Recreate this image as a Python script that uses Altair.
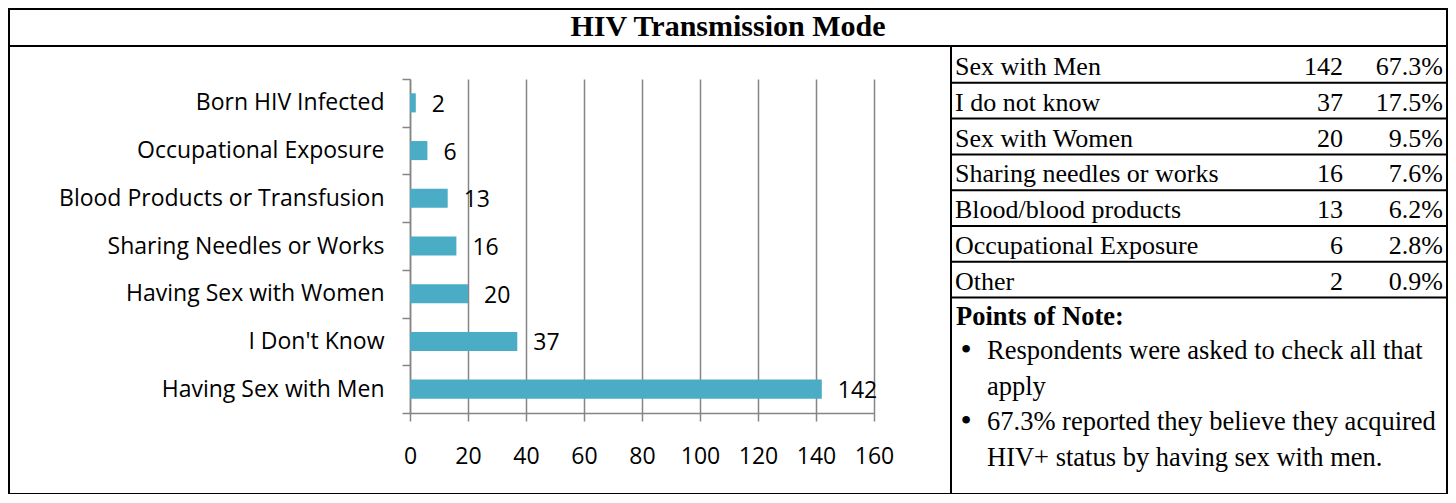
import altair as alt
import pandas as pd

# ---------------- data ----------------
categories = ["Born HIV Infected", "Occupational Exposure", "Blood Products or Transfusion",
              "Sharing Needles or Works", "Having Sex with Women", "I Don't Know",
              "Having Sex with Men"]
counts = [2, 6, 13, 16, 20, 37, 142]

table_labels = ["Sex with Men", "I do not know", "Sex with Women", "Sharing needles or works",
                "Blood/blood products", "Occupational Exposure", "Other"]
table_counts = [142, 37, 20, 16, 13, 6, 2]
table_pcts = ["67.3%", "17.5%", "9.5%", "7.6%", "6.2%", "2.8%", "0.9%"]

title_text = "HIV Transmission Mode"
note_title = "Points of Note:"
note_items = [["Respondents were asked to check all that", "apply"],
              ["67.3% reported they believe they acquired", "HIV+ status by having sex with men."]]
x_ticks = [0, 20, 40, 60, 80, 100, 120, 140, 160]

# ---------------- layout (page pixels -> plot coords) ----------------
OX, OY = 410, 79          # plot origin on page
PW, PH = 464, 334         # plot area
TOTAL_W, TOTAL_H = 1440, 486
PAD_L, PAD_T = OX - 8, OY - 8
PAD_R = TOTAL_W - PAD_L - PW
PAD_B = TOTAL_H - PAD_T - PH

def px(x):
    return x - OX

def py(y):
    return y - OY

SANS = "Open Sans"
SERIF = "Liberation Serif"
GRAY = "#858585"
BAR = "#4BACC6"
TFS = 26      # table font size
NFS = 26.5    # notes font size
LH = 35.7     # notes line height

bars_df = pd.DataFrame({"category": categories, "count": counts})
table_df = pd.DataFrame({"label": table_labels, "n": table_counts, "pct": table_pcts})
one = pd.DataFrame({"a": [0]})

yscale = alt.Scale(paddingInner=0, paddingOuter=0)
xenc = alt.X("count:Q", scale=alt.Scale(domain=[0, 160], nice=False, zero=True),
             axis=alt.Axis(title=None, values=x_ticks, grid=True, gridColor=GRAY, gridWidth=1.5,
                           domainColor=GRAY, domainWidth=1.5, tickColor=GRAY, tickWidth=1.5,
                           tickSize=8, labelFont=SANS, labelFontSize=23, labelColor="black",
                           labelPadding=24, labelFlush=False))
yenc = alt.Y("category:N", sort=categories, scale=yscale,
             axis=alt.Axis(title=None, tickBand="extent", domainColor=GRAY, domainWidth=1.5,
                           tickColor=GRAY, tickWidth=1.5, tickSize=8, labelFont=SANS,
                           labelFontSize=23, labelColor="black", labelPadding=18,
                           labelLimit=0, grid=False))

bars = alt.Chart(bars_df).mark_bar(height=alt.RelativeBandSize(0.4), color=BAR).encode(
    x=xenc, y=yenc)
vals = alt.Chart(bars_df).mark_text(align="left", baseline="middle", dx=16, dy=2,
                                    font=SANS, fontSize=23, color="black").encode(
    x=alt.X("count:Q"), y=alt.Y("category:N", sort=categories, scale=yscale, axis=None),
    text="count:Q")

# table
trange = [py(47), py(297.6)]
tscale = alt.Scale(type="band", domain=table_labels, range=trange, paddingInner=0, paddingOuter=0)
ty = alt.Y("label:N", sort=table_labels, scale=tscale, axis=None)
t_lab = alt.Chart(table_df).mark_text(align="left", baseline="middle", dy=2, font=SERIF,
                                      fontSize=TFS, color="black").encode(
    x=alt.value(px(955)), y=ty, text="label:N")
t_n = alt.Chart(table_df).mark_text(align="right", baseline="middle", dy=2, font=SERIF,
                                    fontSize=TFS, color="black").encode(
    x=alt.value(px(1343)), y=ty, text="n:Q")
t_p = alt.Chart(table_df).mark_text(align="right", baseline="middle", dy=2, font=SERIF,
                                    fontSize=TFS, color="black").encode(
    x=alt.value(px(1443)), y=ty, text="pct:N")
t_rules = alt.Chart(table_df).mark_rule(color="black", strokeWidth=2).encode(
    x=alt.value(px(951)), x2=alt.value(px(1447)),
    y=alt.Y("label:N", sort=table_labels, scale=tscale, axis=None, bandPosition=1))

# frame
frame = alt.Chart(one).mark_rect(fill="white", fillOpacity=0, stroke="black", strokeWidth=2).encode(
    x=alt.value(px(9)), x2=alt.value(px(1447)), y=alt.value(py(9)), y2=alt.value(py(494)))
title_rule = alt.Chart(one).mark_rule(color="black", strokeWidth=2).encode(
    x=alt.value(px(9)), x2=alt.value(px(1447)), y=alt.value(py(46)))
vdiv = alt.Chart(one).mark_rule(color="black", strokeWidth=2).encode(
    x=alt.value(px(951)), y=alt.value(py(46)), y2=alt.value(py(494)))
title = alt.Chart(one).mark_text(text=title_text, font=SERIF, fontSize=30, fontWeight="bold",
                                 align="center", baseline="middle", color="black").encode(
    x=alt.value(px(728)), y=alt.value(py(27)))

note_head = alt.Chart(one).mark_text(text=note_title, font=SERIF, fontSize=NFS, fontWeight="bold",
                                     align="left", baseline="alphabetic", color="black").encode(
    x=alt.value(px(956)), y=alt.value(py(325)))

note_layers = []
base_y = 359
line_no = 0
for item in note_items:
    y0 = base_y + line_no * LH
    note_layers.append(
        alt.Chart(one).mark_text(text="\u2022", font=SERIF, fontSize=32, align="center",
                                 baseline="alphabetic", color="black").encode(
            x=alt.value(px(966)), y=alt.value(py(y0 + 1))))
    note_layers.append(
        alt.Chart(one).mark_text(text=item, font=SERIF, fontSize=NFS, lineHeight=LH,
                                 align="left", baseline="alphabetic", color="black").encode(
            x=alt.value(px(987)), y=alt.value(py(y0))))
    line_no += len(item)

chart = alt.layer(
    frame, title_rule, vdiv, title, bars, vals, t_rules, t_lab, t_n, t_p,
    note_head, *note_layers
).resolve_scale(y="independent").properties(
    width=PW, height=PH,
    autosize=alt.AutoSizeParams(type="none"),
    padding={"left": PAD_L, "top": PAD_T, "right": PAD_R, "bottom": PAD_B},
    background="white",
).configure_view(stroke=None)

chart.save("out.html", embed_options={"renderer": "svg", "actions": False})
